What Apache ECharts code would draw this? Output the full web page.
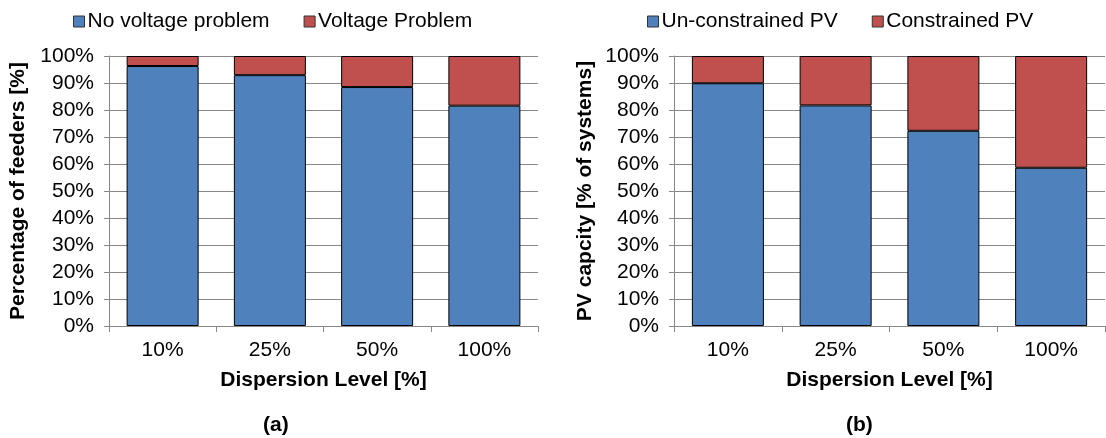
<!DOCTYPE html>
<html>
<head>
<meta charset="utf-8">
<script src="https://cdn.jsdelivr.net/npm/echarts@6/dist/echarts.min.js"></script>
<style>
html,body{margin:0;padding:0;background:#fff;}
#c{width:1106px;height:438px;}
</style>
</head>
<body>
<div id="c"></div>
<script>
const categories = ['10%', '25%', '50%', '100%'];
const noVoltageProblem = [96.3, 92.9, 88.5, 81.6];
const voltageProblem = [3.7, 7.1, 11.5, 18.4];
const unconstrainedPV = [89.9, 81.7, 72.3, 58.6];
const constrainedPV = [10.1, 18.3, 27.7, 41.4];
const yTicks = [0, 100, 10];

const FONT = '"Liberation Sans", Arial, sans-serif';
const BLUE = '#4F81BD';
const RED = '#C0504D';
const GRAY = '#888888';

function xAxis(gridIndex) {
  return {
    type: 'category', gridIndex, data: categories,
    axisLine: {lineStyle: {color: GRAY, width: 1}},
    axisTick: {show: true, length: 6, alignWithLabel: false, lineStyle: {color: GRAY}},
    axisLabel: {color: '#000', fontSize: 21, fontFamily: FONT, margin: 14},
    name: 'Dispersion Level [%]', nameLocation: 'middle', nameGap: 44,
    nameTextStyle: {color: '#000', fontSize: 21, fontWeight: 'bold', fontFamily: FONT}
  };
}
function yAxis(gridIndex, name, gap) {
  return {
    type: 'value', gridIndex, min: yTicks[0], max: yTicks[1], interval: yTicks[2],
    axisLine: {show: true, lineStyle: {color: GRAY, width: 1}},
    axisTick: {show: true, length: 5, lineStyle: {color: GRAY}},
    splitLine: {show: true, lineStyle: {color: GRAY, width: 1}},
    axisLabel: {color: '#000', fontSize: 21, fontFamily: FONT, margin: 15, formatter: '{value}%'},
    name, nameLocation: 'middle', nameGap: gap, nameRotate: 90,
    nameTextStyle: {color: '#000', fontSize: 21, fontWeight: 'bold', fontFamily: FONT}
  };
}
function bar(name, data, color, idx) {
  return {
    name, type: 'bar', stack: 's' + idx, xAxisIndex: idx, yAxisIndex: idx,
    data, barWidth: 72,
    itemStyle: {color, borderColor: '#000', borderWidth: 1},
    emphasis: {disabled: true}
  };
}

const chart = echarts.init(document.getElementById('c'), null, {renderer: 'canvas'});
chart.setOption({
  animation: false,
  backgroundColor: '#fff',
  textStyle: {fontFamily: FONT},
  grid: [
    {left: 109, top: 56, width: 429, height: 270, containLabel: false},
    {left: 674, top: 56, width: 431, height: 270, containLabel: false}
  ],
  legend: [
    {
      data: ['No voltage problem', 'Voltage Problem'], left: 68, top: 6,
      itemWidth: 11, itemHeight: 11, itemGap: 34,
      icon: 'rect',
      textStyle: {fontSize: 21, color: '#000', fontFamily: FONT, padding: [0, 0, 0, -2]},
      itemStyle: {borderColor: '#333', borderWidth: 1}
    },
    {
      data: ['Un-constrained PV', 'Constrained PV'], left: 642, top: 6,
      itemWidth: 11, itemHeight: 11, itemGap: 34,
      icon: 'rect',
      textStyle: {fontSize: 21, color: '#000', fontFamily: FONT, padding: [0, 0, 0, -2]},
      itemStyle: {borderColor: '#333', borderWidth: 1}
    }
  ],
  xAxis: [xAxis(0), xAxis(1)],
  yAxis: [yAxis(0, 'Percentage of feeders [%]', 80), yAxis(1, 'PV capcity [% of systems]', 78)],
  series: [
    bar('No voltage problem', noVoltageProblem, BLUE, 0),
    bar('Voltage Problem', voltageProblem, RED, 0),
    bar('Un-constrained PV', unconstrainedPV, BLUE, 1),
    bar('Constrained PV', constrainedPV, RED, 1)
  ],
  graphic: [
    {type: 'text', left: 263, top: 415, style: {text: '(a)', fontSize: 21, fontWeight: 'bold', fontFamily: FONT, fill: '#000'}},
    {type: 'text', left: 846, top: 415, style: {text: '(b)', fontSize: 21, fontWeight: 'bold', fontFamily: FONT, fill: '#000'}}
  ]
});
</script>
</body>
</html>
